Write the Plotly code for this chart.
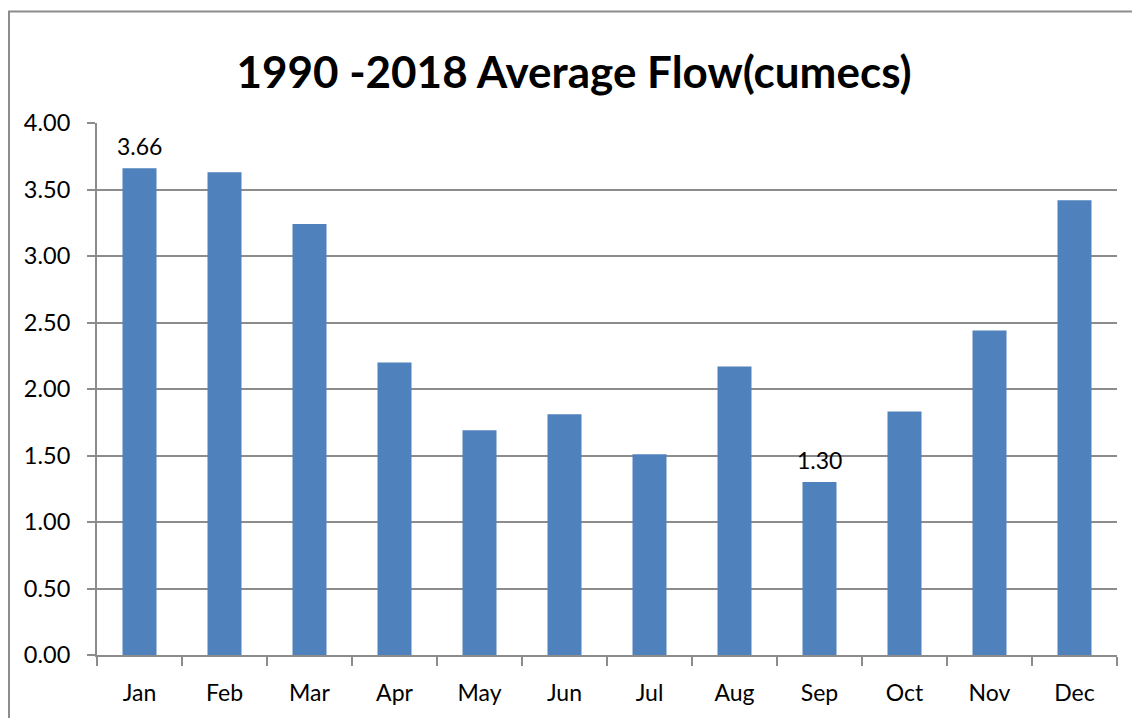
import plotly.graph_objects as go

months = ["Jan", "Feb", "Mar", "Apr", "May", "Jun", "Jul", "Aug", "Sep", "Oct", "Nov", "Dec"]
flow = [3.66, 3.63, 3.24, 2.20, 1.69, 1.81, 1.51, 2.17, 1.30, 1.83, 2.44, 3.42]
labelled = ["Jan", "Sep"]
y_ticks = [0, 0.5, 1.0, 1.5, 2.0, 2.5, 3.0, 3.5, 4.0]

FONT = "Lato, 'Open Sans', sans-serif"
GRID = "#8c8c8c"

fig = go.Figure()
fig.add_trace(go.Bar(
    x=months, y=flow, marker=dict(color="#4f81bd", line=dict(width=0)),
    hoverinfo="x+y",
))

for m, v in zip(months, flow):
    if m in labelled:
        fig.add_annotation(x=m, y=v, text=f"{v:.2f}", showarrow=False,
                           yanchor="bottom", yshift=6,
                           font=dict(family=FONT, size=23, color="#000000"))

# outer chart frame
fig.add_shape(type="rect", xref="paper", yref="paper",
              x0=-0.0863, x1=1.03, y0=-0.13, y1=1.2097,
              line=dict(color="#8c8c8c", width=2), layer="below")

fig.update_layout(
    width=1132, height=710,
    margin=dict(l=89, r=23, t=115, b=61),
    paper_bgcolor="white", plot_bgcolor="white",
    bargap=0.6,
    showlegend=False,
    title=dict(text="<b>1990 -2018 Average Flow(cumecs)</b>", x=0.5, xanchor="center",
               y=0.9085, yanchor="middle",
               font=dict(family=FONT, size=44, color="#000000")),
    font=dict(family=FONT, size=23, color="#000000"),
)
fig.update_xaxes(
    showline=True, linecolor=GRID, linewidth=2,
    ticks="outside", tickson="boundaries", ticklen=9, tickcolor=GRID, tickwidth=2,
    showgrid=False, tickfont=dict(family=FONT, size=23, color="#000000"),
    ticklabelstandoff=16,
)
fig.update_yaxes(
    range=[0, 4], tickvals=y_ticks, ticktext=[f"{t:.2f}" for t in y_ticks],
    showline=True, linecolor=GRID, linewidth=2,
    ticks="outside", ticklen=8, tickcolor=GRID, tickwidth=2,
    showgrid=True, gridcolor=GRID, gridwidth=2, zeroline=False,
    tickfont=dict(family=FONT, size=23.5, color="#000000"),
    ticklabelstandoff=12,
)

fig.write_html("out.html")
